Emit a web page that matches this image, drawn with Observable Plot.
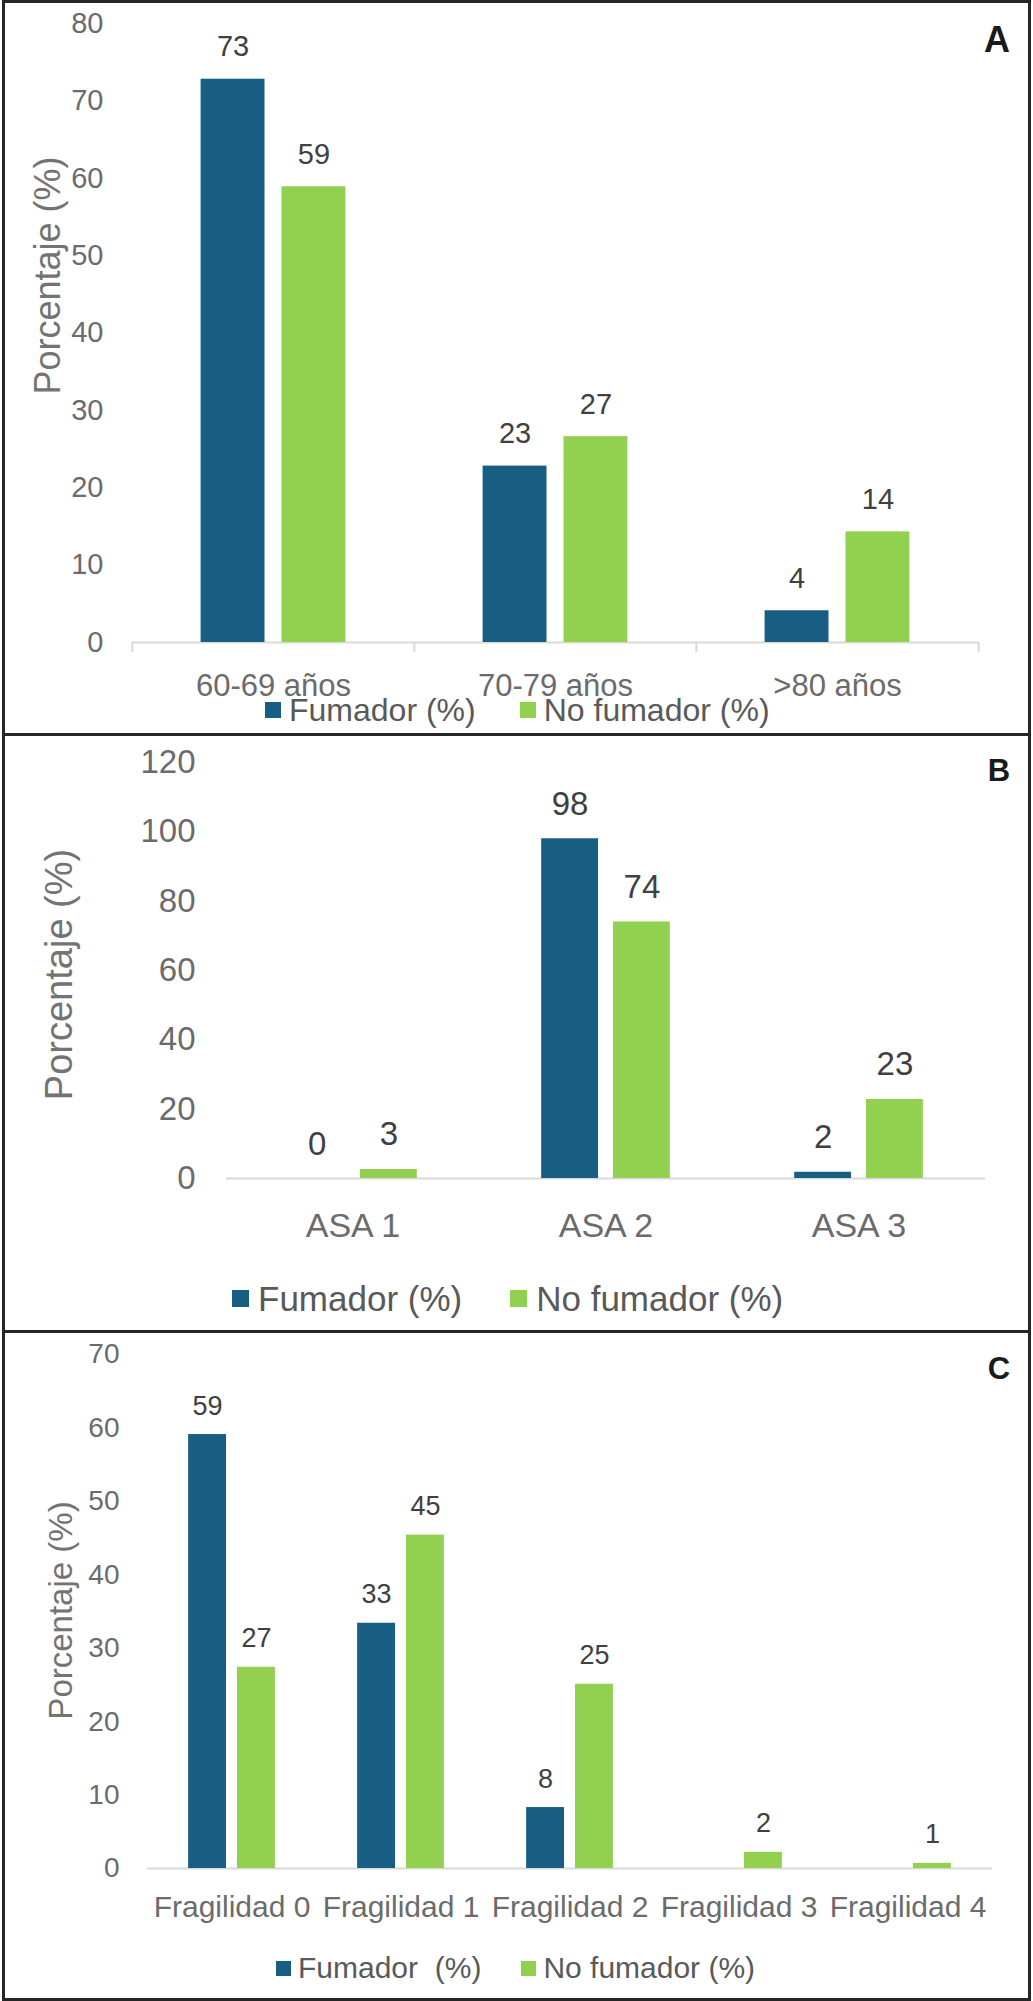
<!DOCTYPE html>
<html>
<head>
<meta charset="utf-8">
<script src="https://cdn.jsdelivr.net/npm/d3@7/dist/d3.min.js"></script>
<script src="https://cdn.jsdelivr.net/npm/@observablehq/plot@0.6/dist/plot.umd.min.js"></script>
<style>
  html, body { margin: 0; padding: 0; background: #fff; }
  #page { position: relative; width: 1033px; height: 2001px; overflow: hidden; font-family: "Liberation Sans", Arial, Helvetica, sans-serif; }
  .svgwrap { position: absolute; left: 0; }
  .border { position: absolute; left: 2px; width: 1029px; border: 3px solid #262626; box-sizing: border-box; pointer-events: none; }
  .letter { position: absolute; font-weight: bold; color: #1a1a1a; transform: translate(-50%, -50%); line-height: 1; }
  .legend { position: absolute; display: flex; align-items: center; color: #595959; white-space: pre; line-height: 1; }
  .legend .sw { display: inline-block; }
</style>
</head>
<body>
<div id="page"></div>
<script>
// ---------- data ----------
const seriesKeys = ["Fumador", "No fumador"];
const seriesColors = ["#175e82", "#92d050"];

const ageCats = ["60-69 años", "70-79 años", ">80 años"];
const ageFumador = [72.8, 22.8, 4.1];
const ageNoFumador = [58.9, 26.6, 14.3];
const ageTicks = [0, 10, 20, 30, 40, 50, 60, 70, 80];
const ageLegend = ["Fumador (%)", "No fumador (%)"];

const asaCats = ["ASA 1", "ASA 2", "ASA 3"];
const asaFumador = [0, 98.0, 1.8];
const asaNoFumador = [2.6, 74.0, 22.8];
const asaTicks = [0, 20, 40, 60, 80, 100, 120];
const asaLegend = ["Fumador (%)", "No fumador (%)"];

const fragCats = ["Fragilidad 0", "Fragilidad 1", "Fragilidad 2", "Fragilidad 3", "Fragilidad 4"];
const fragFumador = [59.1, 33.4, 8.3, null, null];
const fragNoFumador = [27.4, 45.4, 25.1, 2.2, 0.7];
const fragTicks = [0, 10, 20, 30, 40, 50, 60, 70];
const fragLegend = ["Fumador  (%)", "No fumador (%)"];

const yTitle = "Porcentaje (%)";

// ---------- layout / style per panel ----------
const panels = [
  {letter: "A", cats: ageCats, values: [ageFumador, ageNoFumador], ticks: ageTicks, legend: ageLegend,
   top: 0, height: 734, mT: 23, mB: 92, mL: 131, mR: 55, pi: 0.21, po: 0.848,
   yFont: 29, xFont: 31, valFont: 29, titleFont: 36, yPad: 29, xPad: 31, gap: 23, tdx: -84.5, tdy: -57.5,
   boundaryTicks: true,
   letterPos: [997, 40, 36],
   leg: {x: 265, y: 710, font: 32, sw: 16, swGap: 8, itemGap: 44}},
  {letter: "B", cats: asaCats, values: [asaFumador, asaNoFumador], ticks: asaTicks, legend: asaLegend,
   top: 734, height: 597, mT: 28, mB: 153, mL: 225, mR: 47, pi: 0.208, po: 0.866,
   yFont: 33, xFont: 34, valFont: 33, titleFont: 38, yPad: 31, xPad: 34, gap: 24, tdx: -167, tdy: 4,
   boundaryTicks: false,
   letterPos: [999, 770, 31],
   leg: {x: 232, y: 1298, font: 35, sw: 17, swGap: 9, itemGap: 48}},
  {letter: "C", cats: fragCats, values: [fragFumador, fragNoFumador], ticks: fragTicks, legend: fragLegend,
   top: 1331, height: 670, mT: 23, mB: 133, mL: 145, mR: 40, pi: 0.224, po: 0.842,
   yFont: 28, xFont: 30, valFont: 27, titleFont: 33, yPad: 28, xPad: 27, gap: 20, tdx: -85.6, tdy: -1,
   boundaryTicks: false,
   letterPos: [999, 1368, 31],
   leg: {x: 276, y: 1968, font: 30, sw: 15, swGap: 7, itemGap: 40}}
];

const page = document.getElementById("page");
const W = 1033;
const tickColor = "#6b6b6b";
const valColor = "#404040";
const baseColor = "#d9d9d9";

panels.forEach((p) => {
  const rows = [];
  p.cats.forEach((c, i) => {
    p.values.forEach((vals, j) => {
      if (vals[i] != null) rows.push({cat: c, s: seriesKeys[j], v: vals[i]});
    });
  });
  const bw = (W - p.mL - p.mR) / p.cats.length;
  const marks = [
    Plot.ruleY([0], {stroke: baseColor, strokeWidth: 2}),
    Plot.barY(rows, {fx: "cat", x: "s", y: "v", fill: "s"}),
    Plot.text(rows, {fx: "cat", x: "s", y: "v", text: d => String(Math.round(d.v)),
      lineAnchor: "bottom", dy: -p.gap, fontSize: p.valFont, fill: valColor}),
    Plot.axisY({anchor: "left", ticks: p.ticks, tickSize: 0, tickPadding: p.yPad, fontSize: p.yFont, fill: tickColor, label: null}),
    Plot.axisFx({anchor: "bottom", tickSize: 0, tickPadding: p.xPad, fontSize: p.xFont, fill: tickColor, label: null}),
    Plot.text([yTitle], {fx: () => p.cats[0], frameAnchor: "left", textAnchor: "middle", rotate: -90, dx: p.tdx, dy: p.tdy,
      fontSize: p.titleFont, fill: "#737373", text: d => d})
  ];
  if (p.boundaryTicks) {
    marks.push(Plot.axisFx({anchor: "bottom", tickSize: 10, tickFormat: () => "", dx: -bw / 2, stroke: baseColor, strokeWidth: 2, label: null}));
    marks.push(Plot.axisFx({anchor: "bottom", ticks: [p.cats[p.cats.length - 1]], tickSize: 10, tickFormat: () => "", dx: bw / 2, stroke: baseColor, strokeWidth: 2, label: null}));
  }
  const chart = Plot.plot({
    width: W,
    height: p.height,
    marginTop: p.mT, marginBottom: p.mB, marginLeft: p.mL, marginRight: p.mR,
    style: {fontFamily: "'Liberation Sans', Arial, Helvetica, sans-serif", background: "transparent", overflow: "visible", color: tickColor},
    fx: {domain: p.cats, padding: 0, label: null},
    x: {domain: seriesKeys, paddingInner: p.pi, paddingOuter: p.po, axis: null, round: false},
    y: {domain: [0, p.ticks[p.ticks.length - 1]], axis: null},
    color: {domain: seriesKeys, range: seriesColors},
    marks
  });
  const wrap = document.createElement("div");
  wrap.className = "svgwrap";
  wrap.style.top = p.top + "px";
  wrap.appendChild(chart);
  page.appendChild(wrap);

  // legend (HTML, built from the series arrays)
  const leg = document.createElement("div");
  leg.className = "legend";
  leg.style.left = p.leg.x + "px";
  leg.style.top = (p.leg.y - p.leg.font / 2) + "px";
  leg.style.height = p.leg.font + "px";
  leg.style.fontSize = p.leg.font + "px";
  p.legend.forEach((lab, j) => {
    const sw = document.createElement("span");
    sw.className = "sw";
    sw.style.width = p.leg.sw + "px";
    sw.style.height = p.leg.sw + "px";
    sw.style.background = seriesColors[j];
    sw.style.marginRight = p.leg.swGap + "px";
    if (j > 0) sw.style.marginLeft = p.leg.itemGap + "px";
    const tx = document.createElement("span");
    tx.textContent = lab;
    leg.appendChild(sw);
    leg.appendChild(tx);
  });
  page.appendChild(leg);

  // panel letter
  const L = document.createElement("div");
  L.className = "letter";
  L.textContent = p.letter;
  L.style.left = p.letterPos[0] + "px";
  L.style.top = p.letterPos[1] + "px";
  L.style.fontSize = p.letterPos[2] + "px";
  page.appendChild(L);
});

// panel borders
[[0, 736], [733, 600], [1330, 671]].forEach(([t, h]) => {
  const b = document.createElement("div");
  b.className = "border";
  b.style.top = t + "px";
  b.style.height = h + "px";
  page.appendChild(b);
});
</script>
</body>
</html>
